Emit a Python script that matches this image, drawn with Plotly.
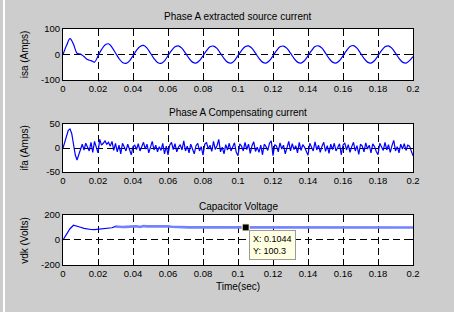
import numpy as np
import plotly.graph_objects as go

# ---------------- data ----------------
t_src = np.round(np.arange(0, 0.2001, 0.002), 4)
isa = [0, 35, 62, 40, 5, 2, -8, -20, -24, -30,
       -6, 19, 37, 42, 28, 6, -16, -31, -35, -25,
       -5, 16, 31, 36, 25, 5, -16, -31, -35, -25,
       -5, 15, 30, 34, 24, 5, -15, -30, -34, -24,
       -5, 15, 30, 33, 24, 4, -15, -30, -34, -24,
       -4, 15, 30, 34, 24, 5, -15, -30, -34, -24,
       -5, 15, 30, 33, 24, 5, -15, -30, -34, -24,
       -5, 15, 31, 34, 25, 5, -15, -30, -34, -24,
       -5, 15, 31, 35, 25, 5, -15, -30, -34, -24,
       -5, 15, 30, 34, 24, 5, -15, -30, -34, -24,
       -8]

t_comp = np.round(np.arange(0, 0.2001, 0.001), 4)
ifa = [0, 12, 26, 37, 40, 30, 8, -14, -25, -12, -3,
       8, -4, 10, 2, -6, 12, -9, 14, 3, -10,
       18, 6, 10, 15, 8, 12, 4, 14, -5, 10,
       -8, 6, -12, 10, 2, -6, 8, -4, -14, 3,
       6, -3, 9, -6, 4, 12, -2, 8, -10, 5,
       14, -4, 6, -8, 3, -5, 10, -12, 4, -14,
       6, 12, -3, 9, -8, 2, 7, -4, 15, -6,
       4, -10, 8, -2, -12, 5, 10, -6, 3, -15,
       8, 12, -2, 6, -7, 14, -3, 5, 18, -8,
       2, -12, 7, -4, 10, -6, 3, 11, -9, -16,
       9, 4, -6, 12, -3, 8, -11, 5, 13, -7,
       2, -9, 6, -14, 8, 3, -5, 10, 15, -16,
       7, 4, -8, 11, -2, 6, -12, 3, 14, -6,
       9, -3, 5, -10, 12, -5, 7, 2, -8, -15,
       10, 3, -6, 13, -4, 6, -9, 4, 12, -7,
       5, -11, 8, -3, 10, -6, 2, 9, -14, 6,
       11, -4, 7, -9, 3, 12, -6, 5, -13, 8,
       4, -8, 11, -2, 6, -10, 9, 3, -7, -14,
       10, 2, -5, 12, -4, 7, -9, 5, 16, -6,
       3, -10, 8, -2, 9, -5, 6, 4, -8, -16]

t_cap = np.round(np.arange(0, 0.2001, 0.002), 4)
vdk = [0, 40, 90, 118, 112, 102, 93, 87, 84, 83,
       85, 88, 91, 94, 98, 108, 103, 104, 105, 106,
       107, 110, 104, 112, 109, 110, 110, 111, 110, 111,
       110, 106, 104, 103, 102, 102, 101, 101, 101, 100,
       100, 100, 101, 100, 99, 100, 101, 100, 100, 99,
       100, 100, 101, 100, 99, 100, 101, 100, 100, 99,
       100, 100, 101, 100, 99, 100, 101, 100, 100, 99,
       100, 100, 101, 100, 99, 100, 101, 100, 100, 99,
       100, 100, 101, 100, 99, 100, 101, 100, 100, 99,
       100, 100, 101, 100, 99, 100, 101, 100, 100, 99,
       100]
ripple_start = 15  # index from which the voltage carries visible switching ripple

tip_x = [0.1044]
tip_y = [100.3]

x_ticks = [0, 0.02, 0.04, 0.06, 0.08, 0.1, 0.12, 0.14, 0.16, 0.18, 0.2]
x_labels = ["0", "0.02", "0.04", "0.06", "0.08", "0.1", "0.12", "0.14", "0.16", "0.18", "0.2"]
titles = ["Phase A extracted source current", "Phase A Compensating current", "Capacitor Voltage"]
ylabels = ["isa (Amps)", "ifa (Amps)", "vdk (Volts)"]

# ---------------- figure ----------------
FONT = "Liberation Sans, Arial, Helvetica, sans-serif"
BLUE = "#0000ff"
fig = go.Figure()
fig.add_trace(go.Scatter(x=t_src, y=isa, mode="lines", line=dict(color=BLUE, width=1.2, shape="spline"),
                         xaxis="x", yaxis="y", showlegend=False))
fig.add_trace(go.Scatter(x=t_comp, y=ifa, mode="lines", line=dict(color=BLUE, width=1.2),
                         xaxis="x2", yaxis="y2", showlegend=False))
fig.add_trace(go.Scatter(x=t_cap, y=vdk, mode="lines", line=dict(color=BLUE, width=1.2),
                         xaxis="x3", yaxis="y3", showlegend=False))
fig.add_trace(go.Scatter(x=t_cap[ripple_start:], y=vdk[ripple_start:], mode="lines",
                         line=dict(color="#7482ff", width=2.6),
                         xaxis="x3", yaxis="y3", showlegend=False))
fig.add_trace(go.Scatter(x=tip_x, y=tip_y, mode="markers",
                         marker=dict(symbol="square", size=7, color="black",
                                     line=dict(color="#ffffcc", width=1)),
                         xaxis="x3", yaxis="y3", showlegend=False))

domains = [[0.784, 1.0], [0.394, 0.597], [0.0, 0.212]]
yranges = [[-100, 100], [-50, 50], [-200, 200]]
yticks = [[-100, 0, 100], [-50, 0, 50], [-200, 0, 200]]

common = dict(showline=True, linecolor="black", linewidth=1, mirror="ticks",
              ticks="inside", ticklen=3, tickcolor="black",
              showgrid=True, gridcolor="black", gridwidth=1, griddash="7px,4px",
              zeroline=False, tickfont=dict(family=FONT, size=9.5, color="black"))

layout = dict(width=454, height=312,
              margin=dict(l=63, r=41, t=29, b=47),
              paper_bgcolor="#cdcdcd", plot_bgcolor="white",
              font=dict(family=FONT, size=10, color="black"))
for i in range(3):
    xa = "xaxis" if i == 0 else f"xaxis{i+1}"
    ya = "yaxis" if i == 0 else f"yaxis{i+1}"
    yid = "y" if i == 0 else f"y{i+1}"
    xid = "x" if i == 0 else f"x{i+1}"
    layout[xa] = dict(common, range=[0, 0.2], tickvals=x_ticks, ticktext=x_labels,
                      anchor=yid, domain=[0, 1])
    layout[ya] = dict(common, range=yranges[i], tickvals=yticks[i],
                      ticktext=[str(v) for v in yticks[i]], anchor=xid, domain=domains[i])
fig.update_layout(**layout)

title_y = [1.051, 0.648, 0.25]
ylab_y = [0.892, 0.496, 0.106]
for i in range(3):
    fig.add_annotation(text=titles[i], xref="paper", yref="paper", x=0.5, y=title_y[i],
                       showarrow=False, font=dict(size=10), xanchor="center", yanchor="middle")
    fig.add_annotation(text=ylabels[i], xref="paper", yref="paper", x=-0.109, y=ylab_y[i],
                       showarrow=False, textangle=-90, font=dict(size=10),
                       xanchor="center", yanchor="middle")
fig.add_annotation(text="Time(sec)", xref="paper", yref="paper", x=0.5, y=-0.093,
                   showarrow=False, font=dict(size=10), xanchor="center", yanchor="middle")

fig.add_annotation(text=f"X: {tip_x[0]}<br>Y: {tip_y[0]}", xref="x3", yref="y3",
                   x=tip_x[0], y=tip_y[0], xanchor="left", yanchor="top", xshift=3, yshift=-3,
                   showarrow=False, align="left", bgcolor="#ffffe1", bordercolor="#9a9a9a",
                   borderwidth=1, borderpad=3, font=dict(size=9))

# white strip at left edge of the window
fig.add_shape(type="rect", xref="paper", yref="paper", x0=(3 - 63) / 350, x1=(5 - 63) / 350,
              y0=-0.25, y1=1.2, fillcolor="white", line=dict(width=0), layer="above")

fig.write_html("out.html", config={"displayModeBar": False},
               post_script="document.body.style.margin='0';document.body.style.padding='0';"
                           "document.body.style.background='#cdcdcd';")
